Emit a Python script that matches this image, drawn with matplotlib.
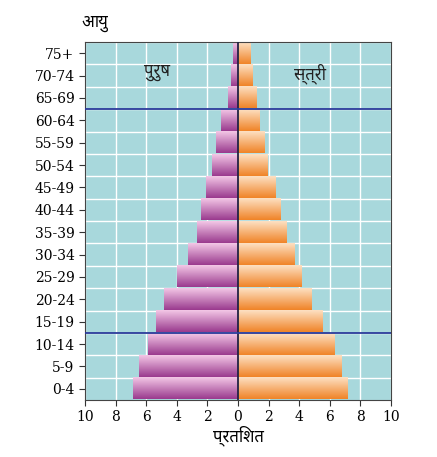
import numpy as np
import matplotlib.pyplot as plt
from matplotlib.colors import LinearSegmentedColormap

plt.rcParams['font.family'] = ['Noto Sans', 'DejaVu Sans', 'Lato']

age_groups = ['0-4', '5-9', '10-14', '15-19', '20-24', '25-29', '30-34', '35-39',
              '40-44', '45-49', '50-54', '55-59', '60-64', '65-69', '70-74', '75+']
male = [6.85, 6.5, 5.85, 5.35, 4.85, 4.0, 3.3, 2.7, 2.4, 2.1, 1.67, 1.45, 1.1, 0.68, 0.46, 0.33]
female = [7.14, 6.74, 6.28, 5.5, 4.78, 4.16, 3.68, 3.17, 2.8, 2.47, 1.96, 1.74, 1.43, 1.2, 0.93, 0.8]
xticks = [-10, -8, -6, -4, -2, 0, 2, 4, 6, 8, 10]

fig = plt.figure(figsize=(4.37, 4.57), dpi=100)
ax = fig.add_axes([85 / 437, 1 - 400 / 457, 306 / 437, 358 / 457])
ax.set_facecolor('#a8d8dc')

male_cmap = LinearSegmentedColormap.from_list('m', ['#f3c6e6', '#9a3b8e'])
female_cmap = LinearSegmentedColormap.from_list('f', ['#fde0c2', '#f08428'])
grad = np.linspace(0, 1, 50).reshape(-1, 1)

h = 0.94
for i in range(len(age_groups)):
    ax.imshow(grad, cmap=male_cmap, aspect='auto', origin='upper',
              extent=[-male[i], 0, i - h / 2, i + h / 2], zorder=2)
    ax.imshow(grad, cmap=female_cmap, aspect='auto', origin='upper',
              extent=[0, female[i], i - h / 2, i + h / 2], zorder=2)

for x in xticks:
    ax.axvline(x, color='white', lw=1, zorder=1)
for i in range(len(age_groups)):
    ax.axhline(i + 0.5, color='white', lw=1, zorder=1)
ax.axvline(0, color='#222244', lw=1.3, zorder=3)
ax.axhline(12.5, color='#2a3a9a', lw=1.3, zorder=3)
ax.axhline(2.5, color='#2a3a9a', lw=1.3, zorder=3)

ax.set_xlim(-10, 10)
ax.set_ylim(-0.5, len(age_groups) - 0.5)
ax.set_xticks(xticks)
ax.set_xticklabels([str(abs(x)) for x in xticks], fontsize=10, family='serif')
ax.set_yticks(range(len(age_groups)))
ax.set_yticklabels(age_groups, fontsize=10, family='serif')
ax.tick_params(length=4, color='#333333')
for s in ax.spines.values():
    s.set_color('#444444')

ax.text(-5.3, 14.1, 'पुरुष', fontsize=12, ha='center', va='center', color='#222222')
ax.text(4.7, 14.1, 'स्त्री', fontsize=12, ha='center', va='center', color='#222222')
ax.set_xlabel('प्रतिशत', fontsize=12, labelpad=1)
fig.text(95 / 437, 1 - 24 / 457, 'आयु', fontsize=12, ha='center', va='center')

fig.savefig('out.png', dpi=100)
